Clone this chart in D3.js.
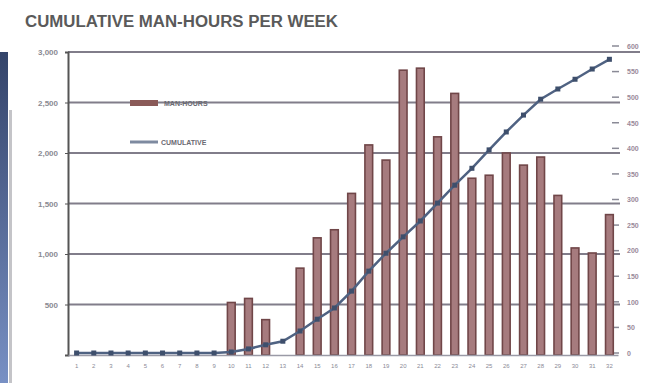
<!DOCTYPE html>
<html><head><meta charset="utf-8">
<script src="https://cdn.jsdelivr.net/npm/d3@7"></script>
<style>body{margin:0;background:#fff;}svg{display:block;}</style>
</head><body>
<svg id="c" width="649" height="383"></svg>
<script>
const weeks = d3.range(1, 33).map(String);
const manHours = [0,0,0,0,0,0,0,0,0,520,560,350,0,860,1160,1240,1600,2080,1930,2820,2840,2160,2590,1750,1780,2000,1880,1960,1580,1060,1010,1390];
const cumulative = [0,0,0,0,0,0,0,0,0,2,8,16,23,43,66,88,121,160,195,227,258,293,328,361,397,432,465,496,516,535,555,574];
const leftTicks = [500,1000,1500,2000,2500,3000];
const rightTicks = d3.range(0, 601, 50);
const title = "CUMULATIVE MAN-HOURS PER WEEK";
const legendLabels = ["MAN-HOURS", "CUMULATIVE"];

const svg = d3.select("#c");
const x = d3.scaleBand().domain(weeks).range([68, 618]).paddingInner(0.55).paddingOuter(0.275);
const yL = d3.scaleLinear().domain([0, 3000]).range([355, 52]);
const yR = d3.scaleLinear().domain([0, 600]).range([353, 46]);

// left edge decoration (slide background)
const g0 = svg.append("defs").append("linearGradient").attr("id","edge").attr("x1",0).attr("x2",0).attr("y1",0).attr("y2",1);
g0.append("stop").attr("offset",0).attr("stop-color","#34446a");
g0.append("stop").attr("offset",1).attr("stop-color","#7890c4");
svg.append("rect").attr("x",0).attr("y",52).attr("width",8).attr("height",331).attr("fill","url(#edge)");
svg.append("rect").attr("x",9).attr("y",110).attr("width",3).attr("height",273).attr("fill","#c4c4c8");

// title
svg.append("text").attr("x",25).attr("y",27).attr("textLength",313).attr("lengthAdjust","spacingAndGlyphs")
  .attr("font-family","Liberation Sans, Arial, sans-serif").attr("font-size",16).attr("font-weight","bold")
  .attr("fill","#5a5a5a").text(title);

// gridlines
svg.append("g").selectAll("line").data(leftTicks).join("line")
  .attr("x1",68).attr("x2",d => d===3000 ? 640 : 620)
  .attr("y1",d=>yL(d)).attr("y2",d=>yL(d))
  .attr("stroke","#74707e").attr("stroke-width",2.2).attr("opacity",0.9);

// left axis
const ax = svg.append("g").attr("transform","translate(68,0)")
  .call(d3.axisLeft(yL).tickValues(leftTicks).tickFormat(d3.format(",")).tickSize(3));
ax.select(".domain").attr("stroke","#555").attr("stroke-width",2);
ax.selectAll(".tick line").attr("stroke","#555");
ax.selectAll("text").attr("font-family","Liberation Sans, Arial, sans-serif").attr("font-size",8).attr("font-weight","bold").attr("fill","#8a8a92").attr("x",-10);

// right axis
const ar = svg.append("g").attr("transform","translate(620,0)")
  .call(d3.axisRight(yR).tickValues(rightTicks).tickSize(0));
ar.select(".domain").remove();
ar.selectAll("text").attr("font-family","Liberation Sans, Arial, sans-serif").attr("font-size",7).attr("font-weight","bold").attr("fill","#9a8a9a").attr("x",7);
svg.append("g").selectAll("line").data(rightTicks).join("line")
  .attr("x1",612).attr("x2",619).attr("y1",d=>yR(d)).attr("y2",d=>yR(d)).attr("stroke","#8a8a96").attr("stroke-width",1.5);

// bars
svg.append("g").selectAll("rect").data(weeks.map((w,i)=>({w, v:manHours[i]})).filter(d=>d.v>0)).join("rect")
  .attr("x",d=>x(d.w)).attr("width",x.bandwidth())
  .attr("y",d=>yL(d.v)).attr("height",d=>yL(0)-yL(d.v))
  .attr("fill","#a67b7e").attr("stroke","#704648").attr("stroke-width",1.6);

// x axis
const axb = svg.append("g").attr("transform","translate(0,355)")
  .call(d3.axisBottom(x).tickSize(0).tickPadding(9));
axb.select(".domain").attr("stroke","#9a9aa6").attr("stroke-width",1.5);
axb.selectAll("text").attr("font-family","Liberation Sans, Arial, sans-serif").attr("font-size",6).attr("fill","#8a8a96");

// cumulative line
const cx = w => x(w) + x.bandwidth()/2;
const pts = weeks.map((w,i)=>({w, v:cumulative[i]}));
svg.append("path").datum(pts)
  .attr("d", d3.line().x(d=>cx(d.w)).y(d=>yR(d.v)))
  .attr("fill","none").attr("stroke","#4f6282").attr("stroke-width",2.5);
svg.append("g").selectAll("rect").data(pts).join("rect")
  .attr("x",d=>cx(d.w)-2.5).attr("y",d=>yR(d.v)-2.5).attr("width",5).attr("height",5)
  .attr("fill","#3e4f6c");

// legend
const lg = svg.append("g");
lg.append("rect").attr("x",130).attr("y",100).attr("width",28).attr("height",6).attr("fill","#8a5a58");
lg.append("line").attr("x1",130).attr("x2",158).attr("y1",142).attr("y2",142).attr("stroke","#7e8aa0").attr("stroke-width",3);
lg.selectAll("text").data(legendLabels).join("text")
  .attr("x",d=>d==="MAN-HOURS"?164:161).attr("y",(d,i)=>i===0?106:145)
  .attr("font-family","Liberation Sans, Arial, sans-serif").attr("font-size",7).attr("font-weight","bold")
  .attr("fill","#6a6a72").text(d=>d);
</script>
</body></html>
